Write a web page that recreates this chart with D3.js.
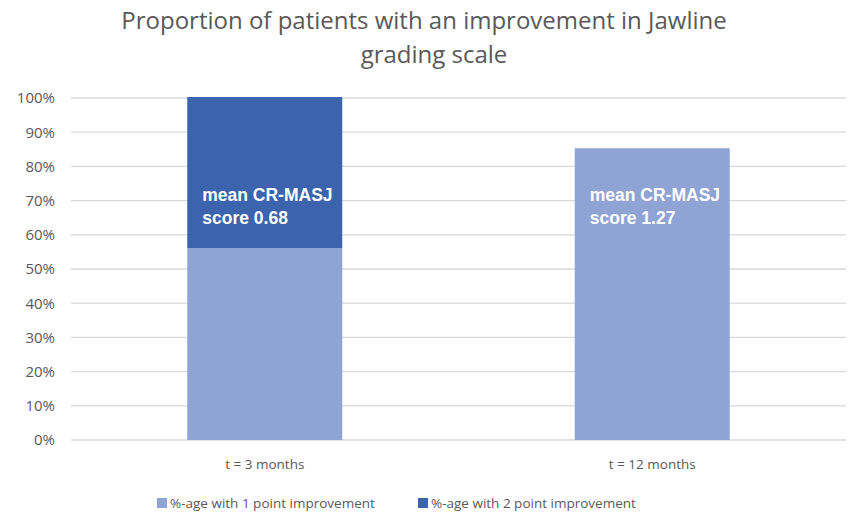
<!DOCTYPE html>
<html>
<head>
<meta charset="utf-8">
<script src="https://d3js.org/d3.v7.min.js"></script>
<style>
  body { margin: 0; background: #fff; }
  text { font-family: "Open Sans", "Liberation Sans", sans-serif; }
</style>
</head>
<body>
<script>
// chart values
var categories = ["t = 3 months", "t = 12 months"];
var onePoint = [0.561, 0.853];
var twoPoint = [0.442, 0];
var seriesNames = ["%-age with 1 point improvement", "%-age with 2 point improvement"];
var notes = [["mean CR-MASJ", "score 0.68"], ["mean CR-MASJ", "score 1.27"]];
var yTicks = [0, 0.1, 0.2, 0.3, 0.4, 0.5, 0.6, 0.7, 0.8, 0.9, 1.0];

var w = 848, h = 513;
var plotLeft = 71, plotRight = 846, plotTop = 98, plotBottom = 440;
var colors = ["#8FA3D5", "#3C64AE"];

var svg = d3.select("body").append("svg").attr("width", w).attr("height", h);

var x = d3.scaleBand().domain(categories).range([plotLeft, plotRight]).paddingInner(0.6).paddingOuter(0.3);
var y = d3.scaleLinear().domain([0, 1]).range([plotBottom, plotTop]);

// title
svg.append("text").attr("x", 424).attr("y", 29).attr("text-anchor", "middle")
  .style("font-size", "24px").style("fill", "#595959")
  .text("Proportion of patients with an improvement in Jawline");
svg.append("text").attr("x", 434).attr("y", 63).attr("text-anchor", "middle")
  .style("font-size", "24px").style("fill", "#595959")
  .text("grading scale");

// gridlines
svg.append("g").selectAll("line").data(yTicks).enter().append("line")
  .attr("x1", plotLeft).attr("x2", plotRight)
  .attr("y1", function(d) { return y(d); }).attr("y2", function(d) { return y(d); })
  .style("stroke", "#D9D9D9").style("stroke-width", 1.3);

// y axis
var yAxis = d3.axisLeft(y).tickValues(yTicks).tickFormat(d3.format(".0%")).tickSize(0).tickPadding(16);
var gy = svg.append("g").attr("transform", "translate(" + plotLeft + ",0)").call(yAxis);
gy.select(".domain").remove();
gy.selectAll("text").style("font-size", "15px").style("fill", "#595959")
  .style("font-family", "'Open Sans', 'Liberation Sans', sans-serif");

// stacked bars
var stack = categories.map(function(c, i) { return { cat: c, a: onePoint[i], b: twoPoint[i] }; });
svg.append("g").selectAll("rect").data(stack).enter().append("rect")
  .attr("x", function(d) { return x(d.cat); })
  .attr("width", x.bandwidth())
  .attr("y", function(d) { return y(d.a); })
  .attr("height", function(d) { return y(0) - y(d.a); })
  .style("fill", colors[0]);
svg.append("g").selectAll("rect").data(stack.filter(function(d) { return d.b > 0; })).enter().append("rect")
  .attr("x", function(d) { return x(d.cat); })
  .attr("width", x.bandwidth())
  .attr("y", function(d) { return y(d.a + d.b); })
  .attr("height", function(d) { return y(d.a) - y(d.a + d.b); })
  .style("fill", colors[1]);

// annotations in bars
categories.forEach(function(c, i) {
  var t = svg.append("text").attr("x", x(c) + 15).attr("y", 201)
    .style("font-family", "'Liberation Sans', Arial, sans-serif")
    .style("font-weight", "bold").style("font-size", "17.5px").style("fill", "#fff");
  t.append("tspan").attr("x", x(c) + 15).text(notes[i][0]);
  t.append("tspan").attr("x", x(c) + 15).attr("dy", 23).text(notes[i][1]);
});

// x axis labels
var xAxis = d3.axisBottom(x).tickSize(0).tickPadding(19);
var gx = svg.append("g").attr("transform", "translate(0," + plotBottom + ")").call(xAxis);
gx.select(".domain").remove();
gx.selectAll("text").style("font-size", "13.5px").style("fill", "#595959")
  .style("font-family", "'Open Sans', 'Liberation Sans', sans-serif");

// legend
var legendX = [157, 418];
seriesNames.forEach(function(s, i) {
  svg.append("rect").attr("x", legendX[i]).attr("y", 498).attr("width", 10).attr("height", 10)
    .style("fill", colors[i]);
  svg.append("text").attr("x", legendX[i] + 13).attr("y", 508)
    .style("font-size", "13.5px").style("fill", "#595959").text(s);
});
</script>
</body>
</html>
